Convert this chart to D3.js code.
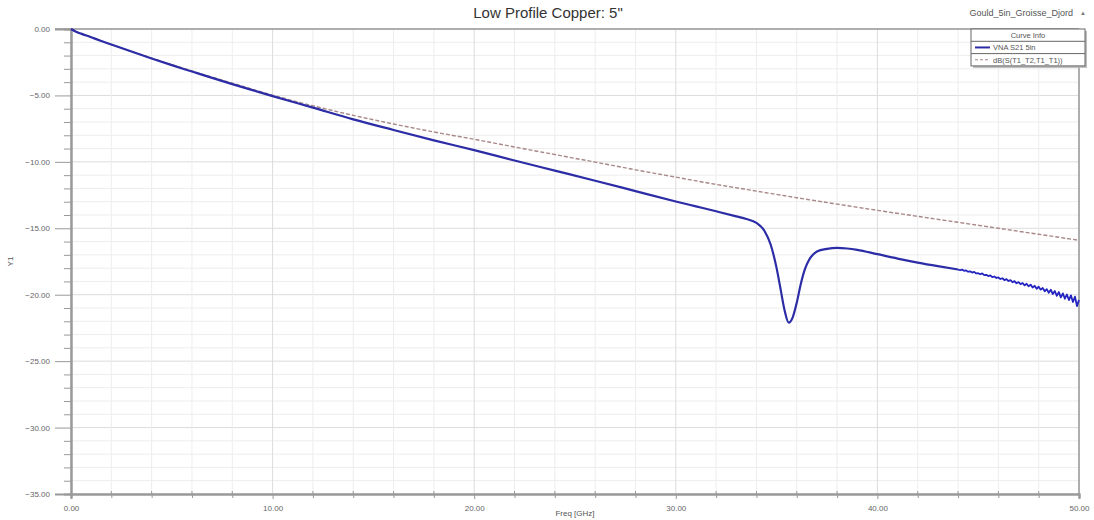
<!DOCTYPE html>
<html>
<head>
<meta charset="utf-8">
<script src="https://cdn.jsdelivr.net/npm/d3@7"></script>
<style>
  html, body { margin: 0; padding: 0; background: #fff; }
  svg { display: block; font-family: "Liberation Sans", Arial, sans-serif; }
</style>
</head>
<body>
<svg id="chart" width="1094" height="520"></svg>
<script>
// ---- Data ----
const chartTitle = 'Low Profile Copper: 5"';
const projectName = "Gould_5in_Groisse_Djord";
const xLabel = "Freq [GHz]";
const yLabel = "Y1";
const seriesNames = ["VNA S21 5in", "dB(S(T1_T2,T1_T1))"];

const xMajorTicks = [0, 10, 20, 30, 40, 50];
const xMinorTicks = [2, 4, 6, 8, 12, 14, 16, 18, 22, 24, 26, 28, 32, 34, 36, 38, 42, 44, 46, 48];
const yMajorTicks = [0, -5, -10, -15, -20, -25, -30, -35];

// Measured S21 (blue), smooth part
const measFreq = [0, 0.25, 0.5, 1, 1.5, 2, 3, 4, 5, 6, 7, 8, 9, 10, 12, 14, 16, 18, 20, 22, 24, 26, 28, 30, 31, 32, 33, 33.5, 34, 34.4, 34.7, 35.0, 35.2, 35.4, 35.6, 35.8, 36.0, 36.2, 36.4, 36.6, 36.8, 37.0, 37.5, 38.0, 38.5, 39.0, 40, 41, 42, 43, 44.0];
const measDb = [0, -0.2, -0.35, -0.62, -0.9, -1.17, -1.7, -2.22, -2.72, -3.2, -3.68, -4.15, -4.6, -5.05, -5.92, -6.8, -7.6, -8.38, -9.12, -9.9, -10.66, -11.42, -12.2, -12.98, -13.35, -13.72, -14.1, -14.3, -14.6, -15.2, -16.2, -18.0, -19.6, -21.2, -22.1, -21.7, -20.6, -19.2, -18.1, -17.4, -17.0, -16.75, -16.55, -16.48, -16.52, -16.62, -16.95, -17.28, -17.58, -17.85, -18.1];

// Measured S21 (blue), noisy tail
const tailFreq = [44.1, 44.2, 44.3, 44.4, 44.5, 44.6, 44.7, 44.8, 44.9, 45.0, 45.1, 45.2, 45.3, 45.4, 45.5, 45.6, 45.7, 45.8, 45.9, 46.0,
  46.1, 46.2, 46.3, 46.4, 46.5, 46.6, 46.7, 46.8, 46.9, 47.0, 47.1, 47.2, 47.3, 47.4, 47.5, 47.6, 47.7, 47.8, 47.9, 48.0,
  48.1, 48.2, 48.3, 48.4, 48.5, 48.6, 48.7, 48.8, 48.9, 49.0, 49.1, 49.2, 49.3, 49.4, 49.5, 49.6, 49.7, 49.8, 49.9, 50.0];
const tailDb = [-18.16, -18.11, -18.2, -18.17, -18.27, -18.24, -18.33, -18.28, -18.4, -18.38, -18.46, -18.4, -18.53, -18.5, -18.6, -18.55, -18.68, -18.63, -18.74, -18.7,
  -18.82, -18.76, -18.9, -18.83, -18.97, -18.9, -19.06, -18.98, -19.14, -19.05, -19.2, -19.12, -19.3, -19.18, -19.36, -19.24, -19.46, -19.33, -19.55, -19.4,
  -19.62, -19.5, -19.74, -19.58, -19.85, -19.62, -19.95, -19.72, -20.08, -19.8, -20.2, -19.9, -20.3, -19.98, -20.4, -20.05, -20.55, -20.15, -20.85, -20.4];

// Simulated S21 (dashed)
const simFreq = [0, 0.5, 1, 2, 4, 6, 8, 10, 12, 14, 16, 18, 20, 22, 24, 26, 28, 30, 32, 34, 36, 38, 40, 42, 44, 46, 48, 50];
const simDb = [0, -0.35, -0.62, -1.17, -2.2, -3.16, -4.08, -4.98, -5.78, -6.5, -7.15, -7.75, -8.3, -8.88, -9.45, -10.02, -10.6, -11.15, -11.7, -12.2, -12.7, -13.18, -13.65, -14.1, -14.55, -15.0, -15.45, -15.9];

// ---- Drawing ----
const svg = d3.select("#chart");
const x = d3.scaleLinear().domain([0, 50]).range([71, 1079]);
const y = d3.scaleLinear().domain([0, -35]).range([29, 494]);

const gridMinorY = d3.range(0, -36, -1);
const gridX = d3.range(0, 51, 2);

// grid
const grid = svg.append("g");
grid.selectAll("line.gy").data(gridMinorY).join("line")
  .attr("x1", x(0)).attr("x2", x(50))
  .attr("y1", d => y(d)).attr("y2", d => y(d))
  .attr("stroke", d => d % 5 === 0 ? "#dcdcdc" : "#ededed").attr("stroke-width", 1);
grid.selectAll("line.gx").data(gridX).join("line")
  .attr("y1", y(0)).attr("y2", y(-35))
  .attr("x1", d => x(d)).attr("x2", d => x(d))
  .attr("stroke", d => d % 10 === 0 ? "#dcdcdc" : "#ededed").attr("stroke-width", 1);

// frame: top & right borders
svg.append("line").attr("x1", 55).attr("x2", x(50)).attr("y1", y(0)).attr("y2", y(0))
  .attr("stroke", "#999").attr("stroke-width", 1.5);
svg.append("line").attr("x1", x(50)).attr("x2", x(50)).attr("y1", y(0)).attr("y2", y(-35))
  .attr("stroke", "#999").attr("stroke-width", 1.5);

// axes
const yMinorAxis = d3.axisLeft(y).tickValues(gridMinorY.filter(d => d % 5 !== 0)).tickSize(7).tickFormat("");
const yMajorAxis = d3.axisLeft(y).tickValues(yMajorTicks).tickSize(16).tickPadding(5).tickFormat(d3.format(".2f"));
const gyMin = svg.append("g").attr("transform", `translate(${x(0)},0)`).call(yMinorAxis);
const gyMaj = svg.append("g").attr("transform", `translate(${x(0)},0)`).call(yMajorAxis);
[gyMin, gyMaj].forEach(g => {
  g.select(".domain").attr("stroke", "#999").attr("stroke-width", 2);
  g.selectAll(".tick line").attr("stroke", "#999");
  g.selectAll("text").attr("fill", "#666").style("font-size", "8px").style("font-family", "Liberation Sans, Arial, sans-serif");
});

const xMinorAxis = d3.axisBottom(x).tickValues(xMinorTicks).tickSize(4).tickFormat("");
const xMajorAxis = d3.axisBottom(x).tickValues(xMajorTicks).tickSize(5).tickPadding(6).tickFormat(d3.format(".2f"));
const gxMin = svg.append("g").attr("transform", `translate(0,${y(-35)})`).call(xMinorAxis);
const gxMaj = svg.append("g").attr("transform", `translate(0,${y(-35)})`).call(xMajorAxis);
[gxMin, gxMaj].forEach(g => {
  g.select(".domain").attr("stroke", "#999").attr("stroke-width", 2);
  g.selectAll(".tick line").attr("stroke", "#999");
  g.selectAll("text").attr("fill", "#666").style("font-size", "8px").style("font-family", "Liberation Sans, Arial, sans-serif");
});
svg.append("g").selectAll("line").data(xMinorTicks).join("line")
  .attr("x1", d => x(d)).attr("x2", d => x(d)).attr("y1", y(-35) - 3).attr("y2", y(-35))
  .attr("stroke", "#999");

// lines
const line = d3.line().x(d => x(d[0])).y(d => y(d[1])).curve(d3.curveMonotoneX);
const lineLin = d3.line().x(d => x(d[0])).y(d => y(d[1]));
const simPts = simFreq.map((f, i) => [f, simDb[i]]);
const measPts = measFreq.map((f, i) => [f, measDb[i]]);
const tailPts = [measPts[measPts.length - 1]].concat(tailFreq.map((f, i) => [f, tailDb[i]]));

svg.append("path").datum(simPts).attr("d", line)
  .attr("fill", "none").attr("stroke", "#a88888").attr("stroke-width", 1.4)
  .attr("stroke-dasharray", "4,2");
svg.append("path").datum(measPts).attr("d", line)
  .attr("fill", "none").attr("stroke", "#2c2ca6").attr("stroke-width", 2.2)
  .attr("stroke-linejoin", "round");
svg.append("path").datum(tailPts).attr("d", lineLin)
  .attr("fill", "none").attr("stroke", "#2424c0").attr("stroke-width", 1.8)
  .attr("stroke-linejoin", "round");

// titles
svg.append("text").attr("x", 548).attr("y", 18).attr("text-anchor", "middle")
  .style("font-size", "15px").attr("fill", "#333").text(chartTitle);
svg.append("text").attr("x", 1073).attr("y", 16).attr("text-anchor", "end")
  .style("font-size", "9px").attr("fill", "#555").text(projectName);
svg.append("text").attr("x", 1083).attr("y", 15).attr("text-anchor", "middle")
  .style("font-size", "6px").attr("fill", "#777").text("▲");

svg.append("text").attr("x", x(25)).attr("y", 516).attr("text-anchor", "middle")
  .style("font-size", "8px").attr("fill", "#555").text(xLabel);
svg.append("text").attr("transform", `translate(13,${y(-17.5)}) rotate(-90)`).attr("text-anchor", "middle")
  .style("font-size", "8px").attr("fill", "#555").text(yLabel);

// legend
const lg = svg.append("g").attr("transform", "translate(971,29)");
const lw = 114, rh = 12.3;
lg.append("rect").attr("x", 2).attr("y", 2).attr("width", lw).attr("height", rh * 3).attr("fill", "#bbb");
lg.append("rect").attr("width", lw).attr("height", rh * 3).attr("fill", "#fff").attr("stroke", "#666").attr("stroke-width", 1);
[1, 2].forEach(i => lg.append("line").attr("x1", 0).attr("x2", lw).attr("y1", rh * i).attr("y2", rh * i).attr("stroke", "#666"));
lg.append("text").attr("x", lw / 2).attr("y", rh - 3).attr("text-anchor", "middle")
  .style("font-size", "7.5px").attr("fill", "#555").text("Curve Info");
const legendStyles = [
  { color: "#2c2ca6", dash: null, w: 2 },
  { color: "#a88888", dash: "3,2", w: 1.2 }
];
seriesNames.forEach((name, i) => {
  const cy = rh * (i + 1) + rh / 2;
  lg.append("line").attr("x1", 4).attr("x2", 19).attr("y1", cy).attr("y2", cy)
    .attr("stroke", legendStyles[i].color).attr("stroke-width", legendStyles[i].w)
    .attr("stroke-dasharray", legendStyles[i].dash);
  lg.append("text").attr("x", 22).attr("y", cy + 2.8)
    .style("font-size", "7.5px").attr("fill", "#555").text(name);
});
</script>
</body>
</html>
